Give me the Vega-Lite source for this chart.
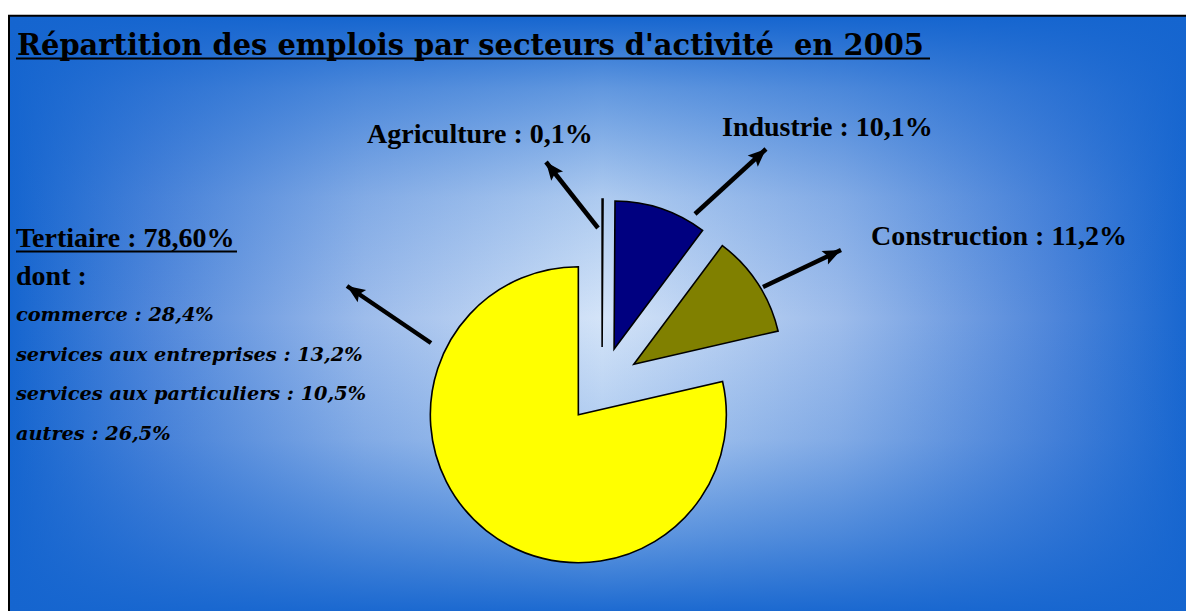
{
  "$schema": "https://vega.github.io/schema/vega-lite/v6.json",
  "width": 1186,
  "height": 611,
  "autosize": "none",
  "padding": 0,
  "background": "white",
  "config": {"view": {"stroke": null}},
  "params": [
    {"name": "pieX", "value": 602},
    {"name": "pieY", "value": 385},
    {"name": "explode", "value": 38}
  ],
  "datasets": {
    "secteurs": [
      {"secteur": "Agriculture", "part": 0.1},
      {"secteur": "Industrie", "part": 10.1},
      {"secteur": "Construction", "part": 11.2},
      {"secteur": "Tertiaire", "part": 78.6}
    ],
    "cadre": [{"x": 9, "y": 15.7, "x2": 1195, "y2": 620}],
    "titre": [{"texte": "Répartition des emplois par secteurs d'activité \u00a0en 2005", "x": 17, "y": 55}],
    "soulignes": [
      {"x": 16, "x2": 930, "y": 58.5},
      {"x": 16, "x2": 237, "y": 251.5}
    ],
    "etiquettes": [
      {"texte": "Agriculture : 0,1%", "x": 367, "y": 143},
      {"texte": "Industrie : 10,1%", "x": 722, "y": 136},
      {"texte": "Construction : 11,2%", "x": 871, "y": 245},
      {"texte": "Tertiaire : 78,60%", "x": 16, "y": 247},
      {"texte": "dont :", "x": 16, "y": 285}
    ],
    "details": [
      {"texte": "commerce : 28,4%", "x": 16, "y": 321},
      {"texte": "services aux entreprises : 13,2%", "x": 16, "y": 361},
      {"texte": "services aux particuliers : 10,5%", "x": 16, "y": 400},
      {"texte": "autres : 26,5%", "x": 16, "y": 440}
    ],
    "fleches": [
      {"secteur": "Agriculture", "x": 598, "y": 228, "x2": 546, "y2": 162},
      {"secteur": "Industrie", "x": 695, "y": 214, "x2": 766, "y2": 149},
      {"secteur": "Construction", "x": 763, "y": 287, "x2": 841, "y2": 250},
      {"secteur": "Tertiaire", "x": 431, "y": 343, "x2": 347, "y2": 286}
    ]
  },
  "layer": [
    {
      "data": {"name": "cadre"},
      "mark": {
        "type": "rect",
        "fill": {
          "gradient": "linear", "x1": 0, "y1": 0, "x2": 1, "y2": 0,
          "stops": [
            {"offset": 0, "color": "#1565cf"},
            {"offset": 0.12, "color": "#4f86da"},
            {"offset": 0.3, "color": "#9dbceb"},
            {"offset": 0.5, "color": "#d4e4f8"},
            {"offset": 0.7, "color": "#9dbceb"},
            {"offset": 0.88, "color": "#4f86da"},
            {"offset": 1, "color": "#1565cf"}
          ]
        }
      },
      "encoding": {
        "x": {"field": "x", "type": "quantitative", "scale": {"domain": [0, 1186], "nice": false, "zero": false}, "axis": null},
        "x2": {"field": "x2"},
        "y": {"field": "y", "type": "quantitative", "scale": {"domain": [0, 611], "nice": false, "zero": false, "reverse": true}, "axis": null},
        "y2": {"field": "y2"}
      }
    },
    {
      "data": {"name": "cadre"},
      "mark": {
        "type": "rect",
        "fill": {
          "gradient": "linear", "x1": 0, "y1": 0, "x2": 0, "y2": 1,
          "stops": [
            {"offset": 0, "color": "rgba(21,101,207,1)"},
            {"offset": 0.12, "color": "rgba(21,101,207,0.6)"},
            {"offset": 0.3, "color": "rgba(21,101,207,0.2)"},
            {"offset": 0.5, "color": "rgba(21,101,207,0)"},
            {"offset": 0.7, "color": "rgba(21,101,207,0.2)"},
            {"offset": 0.86, "color": "rgba(21,101,207,0.6)"},
            {"offset": 1, "color": "rgba(21,101,207,1)"}
          ]
        }
      },
      "encoding": {
        "x": {"field": "x", "type": "quantitative"},
        "x2": {"field": "x2"},
        "y": {"field": "y", "type": "quantitative"},
        "y2": {"field": "y2"}
      }
    },
    {
      "data": {"name": "cadre"},
      "mark": {"type": "rect", "filled": false, "stroke": "black", "strokeWidth": 2},
      "encoding": {
        "x": {"field": "x", "type": "quantitative"},
        "x2": {"field": "x2"},
        "y": {"field": "y", "type": "quantitative"},
        "y2": {"field": "y2"}
      }
    },
    {
      "data": {"name": "secteurs"},
      "transform": [
        {"window": [{"op": "sum", "field": "part", "as": "fin"}], "frame": [null, 0]},
        {"calculate": "datum.fin - datum.part", "as": "debut"},
        {"calculate": "(datum.debut + datum.fin) / 2 * PI / 50", "as": "milieu"},
        {"calculate": "pieX + explode * sin(datum.milieu)", "as": "cx"},
        {"calculate": "pieY - explode * cos(datum.milieu)", "as": "cy"}
      ],
      "mark": {"type": "arc", "radius": 148, "stroke": "black", "strokeWidth": 1.6, "strokeJoin": "miter"},
      "encoding": {
        "x": {"field": "cx", "type": "quantitative"},
        "y": {"field": "cy", "type": "quantitative"},
        "theta": {"field": "debut", "type": "quantitative", "stack": null, "scale": {"domain": [0, 100], "range": [0, 6.283185307179586]}},
        "theta2": {"field": "fin"},
        "color": {
          "field": "secteur", "type": "nominal", "legend": null,
          "scale": {"domain": ["Agriculture", "Industrie", "Construction", "Tertiaire"], "range": ["#ffffff", "#000080", "#808000", "#ffff00"]}
        }
      }
    },
    {
      "data": {"name": "fleches"},
      "mark": {"type": "rule", "color": "black", "strokeWidth": 4.5, "strokeCap": "butt"},
      "encoding": {
        "x": {"field": "x", "type": "quantitative"},
        "y": {"field": "y", "type": "quantitative"},
        "x2": {"field": "x2"},
        "y2": {"field": "y2"}
      }
    },
    {
      "data": {"name": "fleches"},
      "transform": [
        {"calculate": "atan2(datum.x2 - datum.x, datum.y - datum.y2) * 180 / PI", "as": "angle"}
      ],
      "mark": {"type": "point", "shape": "M0,0L0.75,1.8L0,1.45L-0.75,1.8Z", "filled": true, "color": "black", "opacity": 1, "size": 400, "strokeWidth": 0},
      "encoding": {
        "x": {"field": "x2", "type": "quantitative"},
        "y": {"field": "y2", "type": "quantitative"},
        "angle": {"field": "angle", "type": "quantitative", "scale": null}
      }
    },
    {
      "data": {"name": "soulignes"},
      "mark": {"type": "rule", "color": "black", "strokeWidth": 2.2},
      "encoding": {
        "x": {"field": "x", "type": "quantitative"},
        "x2": {"field": "x2"},
        "y": {"field": "y", "type": "quantitative"}
      }
    },
    {
      "data": {"name": "titre"},
      "mark": {"type": "text", "align": "left", "baseline": "alphabetic", "font": "DejaVu Serif", "fontWeight": "bold", "fontSize": 28.9, "color": "black"},
      "encoding": {
        "x": {"field": "x", "type": "quantitative"},
        "y": {"field": "y", "type": "quantitative"},
        "text": {"field": "texte"}
      }
    },
    {
      "data": {"name": "etiquettes"},
      "mark": {"type": "text", "align": "left", "baseline": "alphabetic", "font": "Liberation Serif", "fontWeight": "bold", "fontSize": 28, "color": "black"},
      "encoding": {
        "x": {"field": "x", "type": "quantitative"},
        "y": {"field": "y", "type": "quantitative"},
        "text": {"field": "texte"}
      }
    },
    {
      "data": {"name": "details"},
      "mark": {"type": "text", "align": "left", "baseline": "alphabetic", "font": "DejaVu Serif", "fontWeight": "bold", "fontStyle": "italic", "fontSize": 19.3, "color": "black"},
      "encoding": {
        "x": {"field": "x", "type": "quantitative"},
        "y": {"field": "y", "type": "quantitative"},
        "text": {"field": "texte"}
      }
    }
  ]
}
